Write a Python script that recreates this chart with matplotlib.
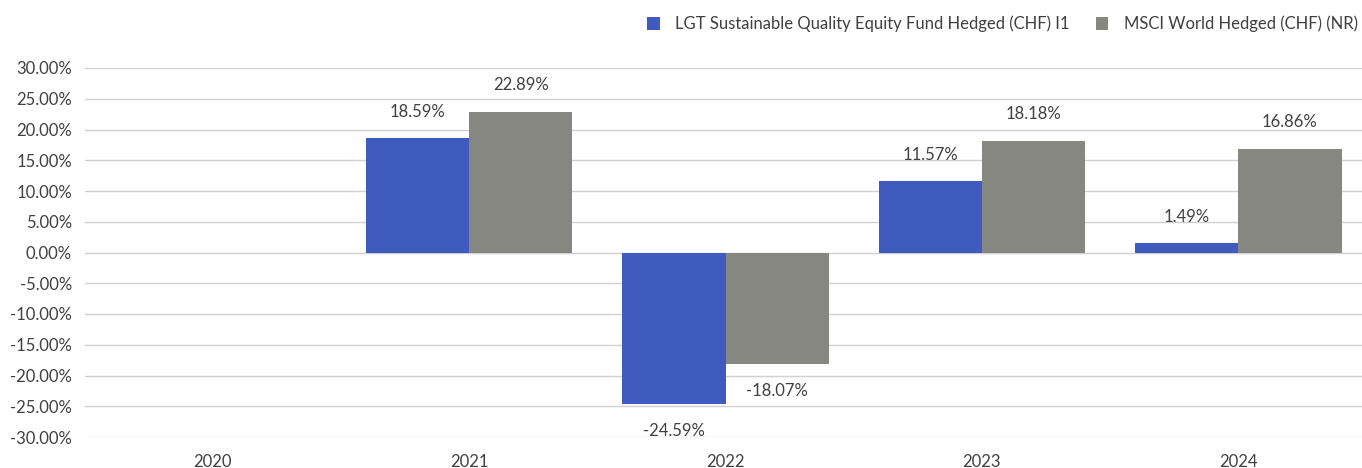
import numpy as np
import matplotlib
matplotlib.use("Agg")
import matplotlib.pyplot as plt
from matplotlib.ticker import FuncFormatter

plt.rcParams['font.family'] = ['Lato', 'DejaVu Sans']

years = ['2020', '2021', '2022', '2023', '2024']
fund = [np.nan, 18.59, -24.59, 11.57, 1.49]
index = [np.nan, 22.89, -18.07, 18.18, 16.86]
fund_name = 'LGT Sustainable Quality Equity Fund Hedged (CHF) I1'
index_name = 'MSCI World Hedged (CHF) (NR)'

blue = '#3f5bbf'
grey = '#878782'
txt = '#404040'
fs = 12

fig = plt.figure(figsize=(13.62, 4.68), dpi=100)
ax = fig.add_axes([84.5/1362, 31/468, 1282/1362, 369/468])

x = np.arange(len(years))
w = 0.403
ax.bar(x - w/2, fund, w, color=blue, label=fund_name, zorder=2)
ax.bar(x + w/2, index, w, color=grey, label=index_name, zorder=2)

for xs, vals in ((x - w/2, fund), (x + w/2, index)):
    for xi, v in zip(xs, vals):
        if np.isnan(v):
            continue
        off = 4.3 if v >= 0 else -4.5
        ax.text(xi, v + off, '%.2f%%' % v, ha='center', va='center',
                fontsize=fs, color=txt)

ax.set_xlim(-0.5, 4.5)
ax.set_ylim(-30, 30)
ax.set_yticks(np.arange(-30, 31, 5))
ax.yaxis.set_major_formatter(FuncFormatter(lambda v, p: '%.2f%%' % v))
ax.set_xticks(x)
ax.set_xticklabels(years)
ax.grid(axis='y', color='#d0d0d0', linewidth=1, zorder=0)
for s in ax.spines.values():
    s.set_visible(False)
ax.tick_params(length=0, labelsize=fs, labelcolor=txt)
ax.tick_params(axis='y', pad=9)
ax.tick_params(axis='x', pad=12)

leg = fig.legend(loc='center right', bbox_to_anchor=(1 - 4/1362, 1 - 24/468),
                 ncol=2, frameon=False, fontsize=fs, handlelength=0.75,
                 handleheight=0.75, columnspacing=1.55, handletextpad=0.95,
                 borderaxespad=0, borderpad=0)
for t in leg.get_texts():
    t.set_color(txt)

fig.savefig('out.png', dpi=100)
